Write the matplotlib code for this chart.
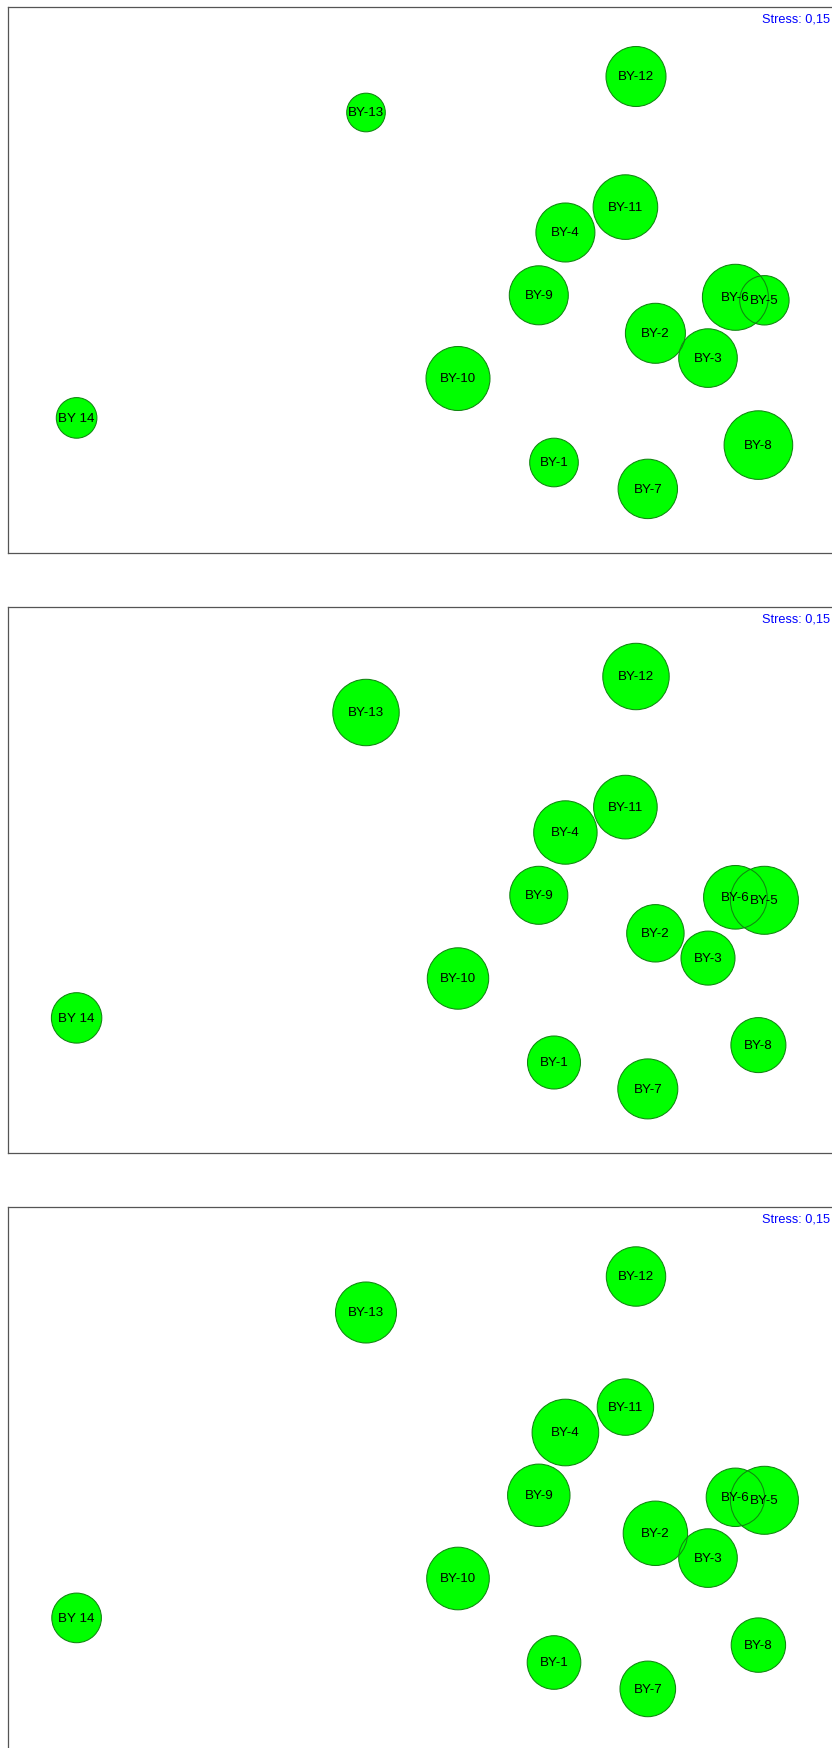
import numpy as np
import matplotlib
matplotlib.use("Agg")
import matplotlib.pyplot as plt

plt.rcParams['font.family'] = ['Liberation Sans', 'DejaVu Sans']

# nMDS ordination (same for all three bubble plots)
samples = ["BY-1", "BY-2", "BY-3", "BY-4", "BY-5", "BY-6", "BY-7",
           "BY-8", "BY-9", "BY-10", "BY-11", "BY-12", "BY-13", "BY 14"]
mds1 = [0.670, 1.177, 1.440, 0.727, 1.722, 1.577, 1.139,
        1.692, 0.594, 0.190, 1.027, 1.080, -0.270, -1.717]
mds2 = [-0.900, -0.254, -0.378, 0.250, -0.089, -0.074, -1.032,
        -0.813, -0.064, -0.480, 0.377, 1.030, 0.850, -0.677]

# bubble values for each panel
bubble_a = [2.43, 3.00, 2.93, 2.95, 2.47, 3.30, 2.97,
            3.43, 2.95, 3.20, 3.23, 3.00, 1.93, 2.03]
bubble_b = [2.65, 2.87, 2.70, 3.17, 3.40, 3.18, 3.00,
            2.75, 2.90, 3.07, 3.18, 3.32, 3.32, 2.52]
bubble_c = [2.68, 3.22, 2.93, 3.33, 3.40, 2.92, 2.78,
            2.72, 3.12, 3.13, 2.82, 2.97, 3.05, 2.48]
stress = "Stress: 0,15"

W, H = 832, 1749
fig = plt.figure(figsize=(W / 100, H / 100), dpi=100)

px_per_unit = 200.0
ax_w = 828
ax_h = 546
xmin = -(420 - 8) / px_per_unit
ymin = -(ax_h / 2 - 2.5) / px_per_unit

panel_tops = [8, 608, 1208]
panels = [bubble_a, bubble_b, bubble_c]

for top, vals in zip(panel_tops, panels):
    ax = fig.add_axes([8 / W, (H - top - ax_h) / H, ax_w / W, ax_h / H])
    ax.set_xlim(xmin, xmin + ax_w / px_per_unit)
    ax.set_ylim(ymin, ymin + ax_h / px_per_unit)
    ax.set_xticks([])
    ax.set_yticks([])
    for sp in ax.spines.values():
        sp.set_color('#555555')
        sp.set_linewidth(0.9)

    # radius in pixels = value * 10 -> marker area in pt^2
    diam_pt = np.array(vals) * 10 * 2 * 0.72
    s = diam_pt ** 2
    ax.scatter(mds1, mds2, s=s, c='#00ff00', edgecolors='none', zorder=2)
    ax.scatter(mds1, mds2, s=s, facecolors='none', edgecolors='#108510',
               linewidths=0.75, zorder=3)
    for name, x, y in zip(samples, mds1, mds2):
        ax.text(x, y, name, ha='center', va='center', fontsize=9.6,
                color='black', zorder=4)

    fig.text(830 / W, (H - top - 15) / H, stress, ha='right', va='baseline',
             fontsize=9.2, color='#0000ff')

fig.savefig("out.png", dpi=100)
